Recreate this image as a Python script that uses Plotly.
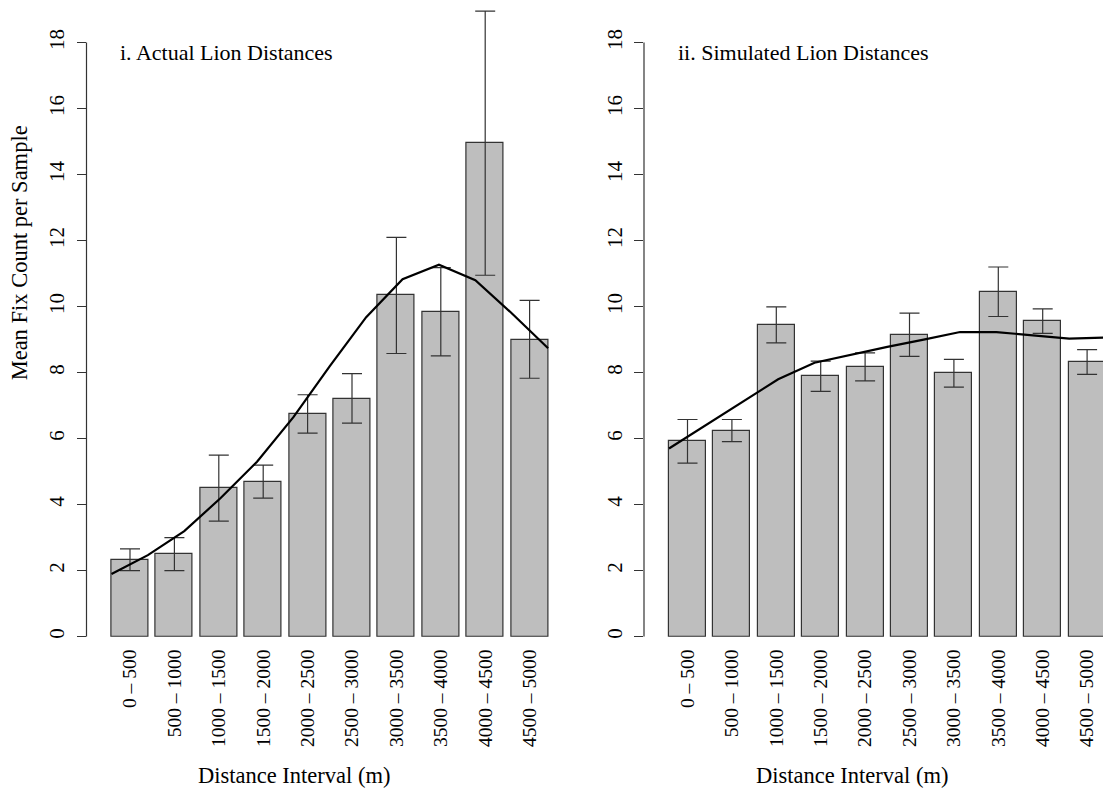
import plotly.graph_objects as go

# Distance classes (m)
intervals = ["0 – 500", "500 – 1000", "1000 – 1500", "1500 – 2000", "2000 – 2500",
             "2500 – 3000", "3000 – 3500", "3500 – 4000", "4000 – 4500", "4500 – 5000"]

# Panel i: actual lion distances
actual_mean = [2.33, 2.50, 4.50, 4.70, 6.76, 7.21, 10.34, 9.84, 14.95, 8.99]
actual_lo = [2.00, 2.00, 3.50, 4.20, 6.17, 6.47, 8.58, 8.51, 10.95, 7.83]
actual_hi = [2.66, 3.00, 5.50, 5.20, 7.33, 7.97, 12.10, 11.18, 18.95, 10.19]
actual_curve = [1.90, 2.47, 3.20, 4.20, 5.30, 6.65, 8.20, 9.68, 10.83, 11.27, 10.80, 9.80, 8.74]

# Panel ii: simulated lion distances
sim_mean = [5.92, 6.23, 9.44, 7.89, 8.16, 9.14, 7.98, 10.44, 9.56, 8.33]
sim_lo = [5.26, 5.91, 8.90, 7.43, 7.75, 8.49, 7.56, 9.70, 9.19, 7.95]
sim_hi = [6.58, 6.58, 9.99, 8.35, 8.60, 9.80, 8.40, 11.20, 9.93, 8.70]
sim_curve = [5.70, 6.40, 7.10, 7.80, 8.30, 8.55, 8.78, 9.00, 9.23, 9.23, 9.12, 9.03, 9.06]

# Distances at which the smoothed curve is evaluated
curve_dist = [5000 / 12 * k for k in range(13)]

y_ticks = [0, 2, 4, 6, 8, 10, 12, 14, 16, 18]

W, H = 1103, 791
FONT = "Liberation Serif, Times New Roman, serif"
INK = "#000000"
AXIS = "#333333"

# barplot-style geometry: bar width 1, space 0.2
centers = [0.7 + 1.2 * i for i in range(len(intervals))]
x_left_edge, x_right_edge = 0.2, 0.2 + 1.2 * (len(intervals) - 1) + 1.0
curve_x = [x_left_edge + d / 5000 * (x_right_edge - x_left_edge) for d in curve_dist]

# pixel layout
PX_PER_UNIT_X = 37.0
Y0_PX = 638.3            # pixel row of value 0
PX_PER_UNIT_Y = 33.09
AXIS1_PX = 86.5          # y-axis line of panel i
ZERO1_PX = 104.1         # pixel column of x = 0 in panel i
SHIFT = 557.5            # horizontal offset of panel ii
RIGHT1_PX = 566.0


def fx(px):
    return px / W


def fy(py):
    return 1 - py / H


y_top = Y0_PX / PX_PER_UNIT_Y
x_range1 = [(AXIS1_PX - ZERO1_PX) / PX_PER_UNIT_X, (RIGHT1_PX - ZERO1_PX) / PX_PER_UNIT_X]
x_range2 = [(AXIS1_PX - ZERO1_PX) / PX_PER_UNIT_X, (W - (ZERO1_PX + SHIFT)) / PX_PER_UNIT_X]

fig = go.Figure()


def add_panel(mean, lo, hi, curve, xa, ya):
    fig.add_trace(go.Bar(
        x=centers, y=mean, width=1.0,
        marker=dict(color="#bebebe", line=dict(color=AXIS, width=1.2)),
        error_y=dict(type="data", symmetric=False,
                     array=[h - m for h, m in zip(hi, mean)],
                     arrayminus=[m - l for m, l in zip(mean, lo)],
                     color=AXIS, thickness=1.2, width=10),
        xaxis=xa, yaxis=ya, showlegend=False, hoverinfo="skip"))
    fig.add_trace(go.Scatter(
        x=curve_x, y=curve, mode="lines",
        line=dict(color=INK, width=2.2),
        xaxis=xa, yaxis=ya, showlegend=False, hoverinfo="skip"))


add_panel(actual_mean, actual_lo, actual_hi, actual_curve, "x", "y")
add_panel(sim_mean, sim_lo, sim_hi, sim_curve, "x2", "y2")

xaxis_common = dict(tickmode="array", tickvals=centers, ticktext=intervals,
                    tickangle=-90, ticks="", showline=False, showgrid=False,
                    zeroline=False, tickfont=dict(family=FONT, size=19.5, color=INK),
                    ticklabelstandoff=8)
yaxis_common = dict(range=[0, y_top], tickmode="array", tickvals=y_ticks,
                    tickangle=-90, ticks="outside", ticklen=9, tickwidth=1.2,
                    tickcolor=AXIS, showline=False, showgrid=False, zeroline=False,
                    tickfont=dict(family=FONT, size=21, color=INK),
                    ticklabelstandoff=4,
                    domain=[fy(Y0_PX), 1.0])

fig.update_layout(
    width=W, height=H,
    margin=dict(l=0, r=0, t=0, b=0),
    paper_bgcolor="white", plot_bgcolor="white",
    bargap=0,
    xaxis=dict(domain=[fx(AXIS1_PX), fx(RIGHT1_PX)], range=x_range1, anchor="y", **xaxis_common),
    yaxis=dict(anchor="x", **yaxis_common),
    xaxis2=dict(domain=[fx(AXIS1_PX + SHIFT), 1.0], range=x_range2, anchor="y2", **xaxis_common),
    yaxis2=dict(anchor="x2", **yaxis_common),
    font=dict(family=FONT, color=INK),
)

# y-axis lines running only from the first to the last tick
for xr, yr in (("x domain", "y"), ("x2 domain", "y2")):
    fig.add_shape(type="line", xref=xr, yref=yr, x0=0, x1=0,
                  y0=y_ticks[0], y1=y_ticks[-1],
                  line=dict(color=AXIS, width=1.2))

annotations = [
    dict(text="i. Actual Lion Distances", x=fx(118), y=fy(52.5),
         xanchor="left", yanchor="middle", font=dict(size=22)),
    dict(text="ii. Simulated Lion Distances", x=fx(118 + SHIFT), y=fy(52.5),
         xanchor="left", yanchor="middle", font=dict(size=22)),
    dict(text="Distance Interval (m)", x=fx(294), y=fy(777),
         xanchor="center", yanchor="middle", font=dict(size=22.5)),
    dict(text="Distance Interval (m)", x=fx(294 + SHIFT), y=fy(777),
         xanchor="center", yanchor="middle", font=dict(size=22.5)),
    dict(text="Mean Fix Count per Sample", x=fx(19), y=fy(254), textangle=-90,
         xanchor="center", yanchor="middle", font=dict(size=22.5)),
]
for a in annotations:
    fig.add_annotation(xref="paper", yref="paper", showarrow=False, **a)

fig.write_html("out.html")
